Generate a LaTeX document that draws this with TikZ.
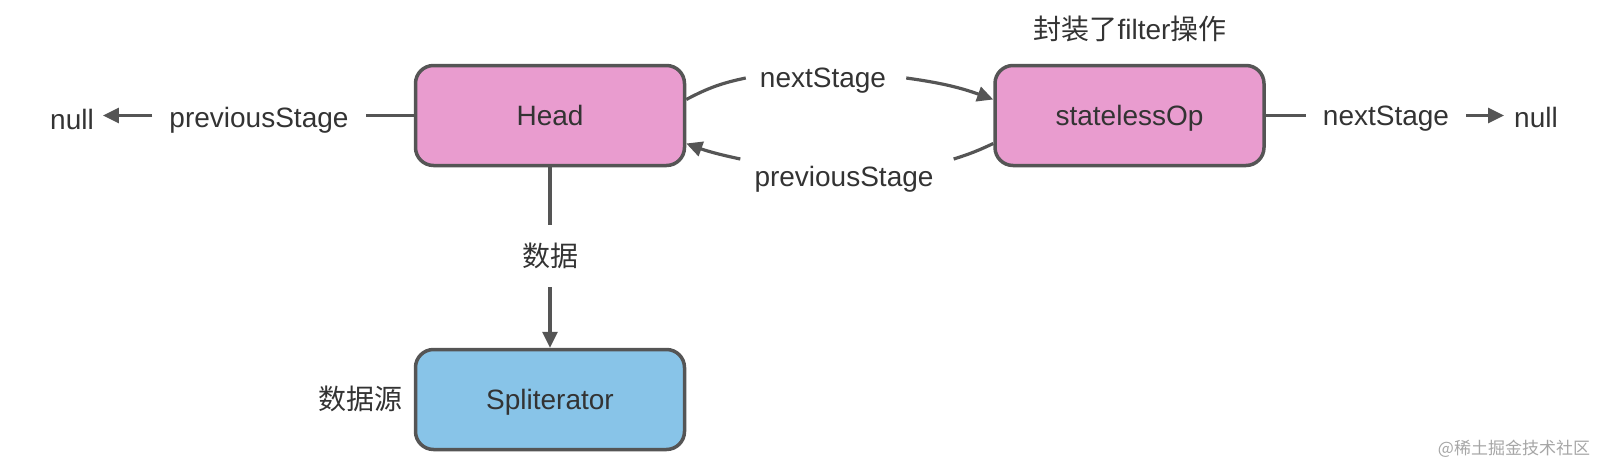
\documentclass[tikz,border=0pt]{standalone}
\usepackage{fontspec}
\setmainfont{Liberation Sans}
\newfontfamily\cjk{Noto Sans CJK SC}
\usetikzlibrary{arrows.meta}
\definecolor{pinkfill}{HTML}{E99CCF}
\definecolor{bluefill}{HTML}{88C4E8}
\definecolor{edgegray}{HTML}{555555}
\definecolor{txt}{HTML}{333333}
\tikzset{
  box/.style={draw=edgegray, line width=3.5pt, rounded corners=18pt, minimum width=269pt, minimum height=100pt, text=txt, font=\fontsize{28}{32}\selectfont, inner sep=0pt, text height=20pt, text depth=0pt},
  lbl/.style={text=txt, font=\fontsize{28}{32}\selectfont, inner sep=0pt},
  clbl/.style={text=txt, font=\cjk\fontsize{28}{32}\selectfont, inner sep=0pt},
  conn/.style={draw=edgegray, line width=3.2pt},
  arr/.style={conn, -{Triangle[length=16pt,width=15pt]}},
}
\begin{document}
\begin{tikzpicture}[x=1pt,y=-1pt]
\useasboundingbox (0,0) rectangle (1604,474);
\node[box, fill=pinkfill] (head) at (550,115.5) {Head};
\node[box, fill=pinkfill] (op) at (1129.5,115.5) {statelessOp};
\node[box, fill=bluefill] (spl) at (550,399.5) {Spliterator};

\node[lbl] (nullL) at (72,119) {null};
\node[lbl] (prevL) at (259,120) {previousStage};
\node[lbl] (nextT) at (823,81) {nextStage};
\node[lbl] (prevB) at (844,179) {previousStage};
\node[lbl] (nextR) at (1386,119) {nextStage};
\node[lbl] (nullR) at (1536,117) {null};
\node[clbl] (filt) at (1130,29) {封装了{\rmfamily filter}操作};
\node[clbl] (data) at (550,256) {数据};
\node[clbl] (src) at (360,399) {数据源};
\node[text=gray!70, font=\cjk\fontsize{17}{20}\selectfont, inner sep=0pt] (wm) at (1514,449) {@稀土掘金技术社区};

% left
\draw[conn] (head.west) -- ([xshift=17pt]prevL.east |- head.west);
\draw[arr] ([xshift=-17pt]prevL.west |- head.west) -- ([xshift=9pt]nullL.east |- head.west);
% right
\draw[conn] (op.east) -- ([xshift=-17pt]nextR.west |- op.east);
\draw[arr] ([xshift=17pt]nextR.east |- op.east) -- ([xshift=-10pt]nullR.west |- op.east);
% top
\draw[conn] ([yshift=16pt]head.east) to[bend left=8] ([xshift=-14pt,yshift=3pt]nextT.west);
\draw[arr] ([xshift=20pt,yshift=3pt]nextT.east) to[bend left=6] ([yshift=16pt]op.west);
% bottom
\draw[conn] ([yshift=-28pt]op.west) to[bend left=4] ([xshift=20pt,yshift=20pt]prevB.east);
\draw[arr] ([xshift=-14pt,yshift=20pt]prevB.west) to[bend left=4] ([yshift=-28pt]head.east);
% vertical
\draw[conn] (head.south) -- ([yshift=18pt]data.north);
\draw[arr] ([yshift=-18pt]data.south) -- (spl.north);
\end{tikzpicture}
\end{document}
